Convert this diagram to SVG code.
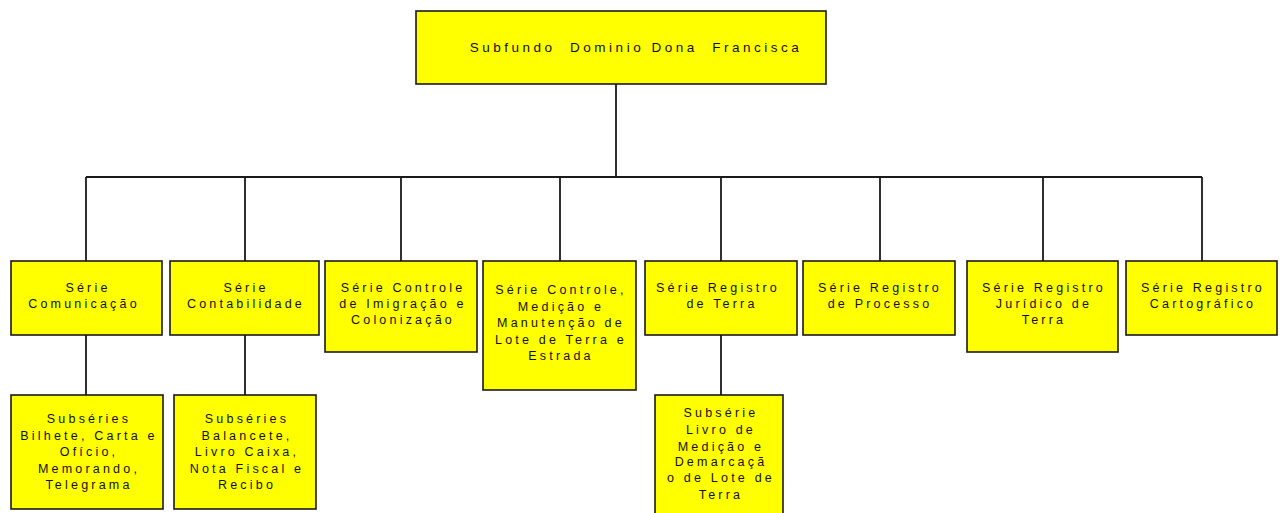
<svg xmlns="http://www.w3.org/2000/svg" width="1285" height="513" viewBox="0 0 1285 513">
<style>
.box{fill:#ffff00;stroke:#1a1a1a;stroke-width:1.6}
.t{font-family:"Liberation Sans",Arial,sans-serif;font-size:12.5px;letter-spacing:3.2px;fill:#111;text-anchor:middle}
.title{font-size:13.5px;letter-spacing:3.5px;white-space:pre}
.c{fill:none;stroke:#1a1a1a;stroke-width:1.8}
</style>
<rect width="1285" height="513" fill="#ffffff"/>
<g id="connectors">
<path class="c" d="M616 84V177M86 177H1202M86 177V261M245 177V261M401 177V261M560 177V261M721 177V261M880 177V261M1043 177V261M1202 177V261"/>
<path class="c" d="M86 335V395M245 335V395M721 335V395"/>
</g>
<g id="root">
<rect class="box" x="416" y="11" width="410" height="73"/>
<text class="t title" x="636" y="52">Subfundo  Dominio Dona  Francisca</text>
</g>
<g id="comunicacao">
<rect class="box" x="11" y="261" width="151" height="74"/>
<text class="t" x="88" y="292">Série</text>
<text class="t" x="84" y="308">Comunicação</text>
</g>
<g id="contabilidade">
<rect class="box" x="170" y="261" width="149" height="74"/>
<text class="t" x="246" y="292">Série</text>
<text class="t" x="246" y="308">Contabilidade</text>
</g>
<g id="imigracao">
<rect class="box" x="325" y="261" width="152" height="91"/>
<text class="t" x="403" y="292">Série Controle</text>
<text class="t" x="403" y="308">de Imigração e</text>
<text class="t" x="403" y="324">Colonização</text>
</g>
<g id="medicao">
<rect class="box" x="483" y="261" width="153" height="129"/>
<text class="t" x="561" y="294">Série Controle,</text>
<text class="t" x="561" y="311">Medição e</text>
<text class="t" x="561" y="327">Manutenção de</text>
<text class="t" x="561" y="344">Lote de Terra e</text>
<text class="t" x="561" y="360">Estrada</text>
</g>
<g id="registro-terra">
<rect class="box" x="645" y="261" width="152" height="74"/>
<text class="t" x="718" y="292">Série Registro</text>
<text class="t" x="722" y="308">de Terra</text>
</g>
<g id="registro-processo">
<rect class="box" x="803" y="261" width="152" height="74"/>
<text class="t" x="880" y="292">Série Registro</text>
<text class="t" x="880" y="308">de Processo</text>
</g>
<g id="registro-juridico">
<rect class="box" x="967" y="261" width="151" height="91"/>
<text class="t" x="1044" y="292">Série Registro</text>
<text class="t" x="1044" y="308">Jurídico de</text>
<text class="t" x="1044" y="324">Terra</text>
</g>
<g id="registro-cartografico">
<rect class="box" x="1126" y="261" width="151" height="74"/>
<text class="t" x="1203" y="292">Série Registro</text>
<text class="t" x="1203" y="308">Cartográfico</text>
</g>
<g id="sub-comunicacao">
<rect class="box" x="11" y="395" width="152" height="114"/>
<text class="t" x="89" y="423">Subséries</text>
<text class="t" x="89" y="440">Bilhete, Carta e</text>
<text class="t" x="89" y="456">Ofício,</text>
<text class="t" x="89" y="473">Memorando,</text>
<text class="t" x="89" y="489">Telegrama</text>
</g>
<g id="sub-contabilidade">
<rect class="box" x="174" y="395" width="142" height="114"/>
<text class="t" x="247" y="423">Subséries</text>
<text class="t" x="247" y="440">Balancete,</text>
<text class="t" x="247" y="456">Livro Caixa,</text>
<text class="t" x="247" y="473">Nota Fiscal e</text>
<text class="t" x="247" y="489">Recibo</text>
</g>
<g id="sub-terra">
<rect class="box" x="655" y="395" width="128" height="125"/>
<text class="t" x="721" y="417">Subsérie</text>
<text class="t" x="721" y="434">Livro de</text>
<text class="t" x="721" y="451">Medição e</text>
<text class="t" x="721" y="466">Demarcaçã</text>
<text class="t" x="721" y="482">o de Lote de</text>
<text class="t" x="721" y="499">Terra</text>
</g>
</svg>
